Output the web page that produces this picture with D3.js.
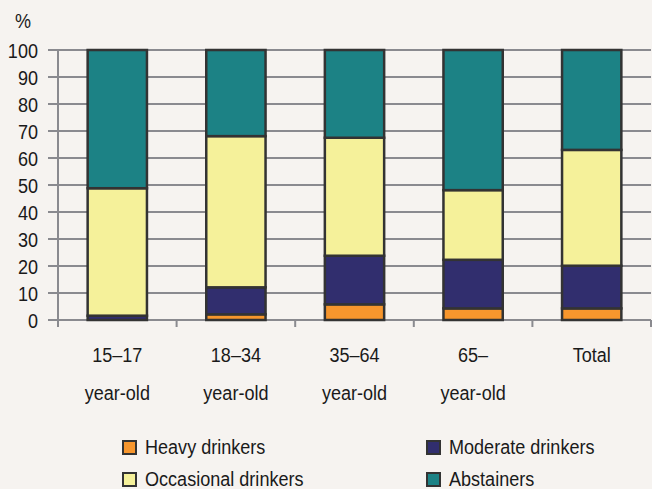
<!DOCTYPE html>
<html>
<head>
<meta charset="utf-8">
<script src="https://cdn.jsdelivr.net/npm/d3@7"></script>
<style>
  html, body { margin: 0; padding: 0; background: #f6f3f0; }
  svg { display: block; }
  text { font-family: "Liberation Sans Narrow", "Arial Narrow", "Liberation Sans", Arial, sans-serif; fill: #1a1a1a; font-size: 21px; }
</style>
</head>
<body>
<svg id="chart" width="652" height="489"></svg>
<script>
// Drinking status by age group (% of population)
const categories = ["15–17", "18–34", "35–64", "65–", "Total"];
const subLabels  = ["year-old", "year-old", "year-old", "year-old", ""];
const seriesNames = ["Heavy drinkers", "Moderate drinkers", "Occasional drinkers", "Abstainers"];
const heavy      = [0.0, 2.1, 5.8, 4.3, 4.3];
const moderate   = [1.6, 10.0, 18.0, 18.0, 15.8];
const occasional = [47.2, 56.0, 43.7, 25.8, 42.9];
const abstainers = [51.2, 31.9, 32.5, 51.9, 37.0];
const yTicks = [0, 10, 20, 30, 40, 50, 60, 70, 80, 90, 100];
const colors = ["#f7962d", "#312e6e", "#f5f19a", "#1c8285"];

const rows = categories.map((c, i) => ({
  cat: c,
  "Heavy drinkers": heavy[i],
  "Moderate drinkers": moderate[i],
  "Occasional drinkers": occasional[i],
  "Abstainers": abstainers[i]
}));

const svg = d3.select("#chart");
const plotLeft = 58, plotRight = 651, plotTop = 50, plotBottom = 320;
const squeeze = 0.86; // horizontal condensing of the label face

const x = d3.scaleBand().domain(categories).range([plotLeft, plotRight])
  .paddingInner(0.5).paddingOuter(0.25);
const y = d3.scaleLinear().domain([0, 100]).range([plotBottom, plotTop]);
const color = d3.scaleOrdinal().domain(seriesNames).range(colors);

const gridColor = "#8a8a8f";

// condensed text placed at (tx, ty)
function label(parent, tx, ty, anchor) {
  return parent.append("text")
    .attr("transform", `translate(${tx},${ty}) scale(${squeeze},1)`)
    .attr("text-anchor", anchor || "start");
}

// horizontal gridlines with short stubs left of the axis
svg.append("g").selectAll("line").data(yTicks).join("line")
  .attr("x1", plotLeft - 10).attr("x2", plotRight)
  .attr("y1", d => y(d)).attr("y2", d => y(d))
  .attr("stroke", gridColor).attr("stroke-width", 2);

// vertical axis
svg.append("line")
  .attr("x1", plotLeft).attr("x2", plotLeft).attr("y1", plotTop).attr("y2", plotBottom + 7)
  .attr("stroke", gridColor).attr("stroke-width", 2);

// category boundary ticks
const step = x.step();
const bounds = d3.range(1, categories.length + 1).map(i => plotLeft + i * step);
svg.append("g").selectAll("line").data(bounds).join("line")
  .attr("x1", d => d).attr("x2", d => d)
  .attr("y1", plotBottom).attr("y2", plotBottom + 7)
  .attr("stroke", gridColor).attr("stroke-width", 2);

// y tick labels
const yLab = svg.append("g");
yTicks.forEach(t => label(yLab, 38, y(t) + 7.5, "end").text(t));

label(svg, 15, 28).text("%");

// stacked bars
const stacked = d3.stack().keys(seriesNames)(rows);
svg.append("g").selectAll("g").data(stacked).join("g")
  .attr("fill", d => color(d.key))
  .selectAll("rect").data(d => d).join("rect")
  .attr("x", d => x(d.data.cat))
  .attr("width", x.bandwidth())
  .attr("y", d => y(d[1]))
  .attr("height", d => y(d[0]) - y(d[1]))
  .attr("stroke", "#333333").attr("stroke-width", 2.5);

// x labels (two lines)
const xLab = svg.append("g");
categories.forEach((c, i) => {
  const cx = x(c) + x.bandwidth() / 2;
  label(xLab, cx, 362, "middle").text(c);
  label(xLab, cx, 400, "middle").text(subLabels[i]);
});

// legend, two columns
const legendPos = [[122, 440], [426, 440], [122, 472], [426, 472]];
const lg = svg.append("g");
seriesNames.forEach((s, i) => {
  const [lx, ly] = legendPos[i];
  lg.append("rect").attr("x", lx + 1).attr("y", ly + 1).attr("width", 13).attr("height", 13)
    .attr("fill", color(s)).attr("stroke", "#333333").attr("stroke-width", 2);
  label(lg, lx + 23, ly + 14).text(s);
});
</script>
</body>
</html>
